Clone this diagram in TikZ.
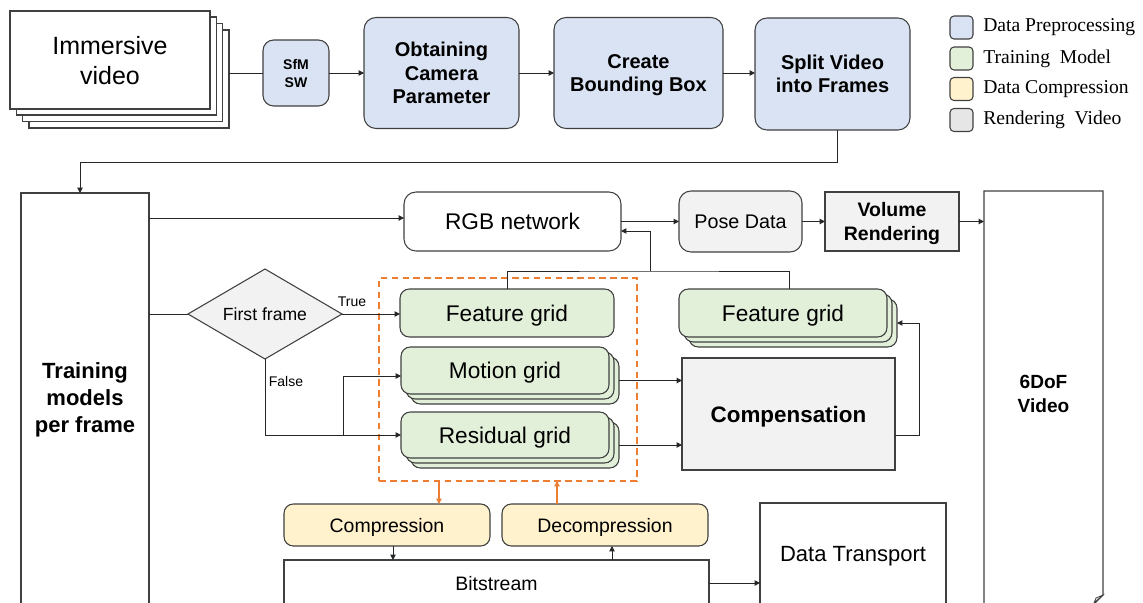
\documentclass[tikz,border=0pt]{standalone}
\usepackage{fontspec}
\setmainfont{Liberation Sans}
\newfontfamily\legfont{Liberation Serif}
\usetikzlibrary{arrows.meta,shapes.geometric,calc}
\newcommand\myfs[2]{\fontsize{#1}{#2}\selectfont}
\definecolor{cblue}{HTML}{DAE3F3}
\definecolor{cgreen}{HTML}{E2F0D9}
\definecolor{cyellow}{HTML}{FFF2CC}
\definecolor{cgray}{HTML}{F2F2F2}
\definecolor{clgray}{HTML}{E6E6E6}
\definecolor{cborder}{HTML}{404040}
\definecolor{corange}{HTML}{ED7D31}
\definecolor{cline}{HTML}{262626}
\tikzset{
  sz/.style 2 args={minimum width=#1*0.75pt, minimum height=#2*0.75pt},
  base/.style={draw=cborder, line width=0.8pt, inner sep=0pt, outer sep=0pt, align=center, text depth=0pt},
  textonly/.style={inner sep=0pt, outer sep=0pt, align=center, text depth=0pt},
  prepbox/.style={base, fill=cblue, rounded corners=9pt, font=\bfseries\myfs{15}{17.5}},
  gridbox/.style={base, fill=cgreen, rounded corners=7pt, font=\myfs{17}{20}},
  cmpbox/.style={base, fill=cyellow, rounded corners=7pt, font=\myfs{14.6}{17}},
  legsq/.style={base, rounded corners=3pt, sz={23}{23}},
  legtxt/.style={anchor=west, inner sep=0pt, font=\legfont\myfs{14.7}{17}},
  ln/.style={draw=cline, line width=0.75pt},
  arr/.style={ln, -{Triangle[length=4pt,width=4pt]}},
  oarr/.style={draw=corange, line width=1pt, -{Triangle[length=4pt,width=4pt]}},
}
\begin{document}
\begin{tikzpicture}[x=0.75pt, y=-0.75pt]
\useasboundingbox (0,0) rectangle (1143,603);
\clip (0,0) rectangle (1143,603);

% legend
\node[legsq, fill=cblue] (l1) at (961.5,27.5) {};
\node[legsq, fill=cgreen] (l2) at (961.5,58.5) {};
\node[legsq, fill=cyellow] (l3) at (961.5,89) {};
\node[legsq, fill=clgray] (l4) at (961.5,120) {};
\node[legtxt] (t1) at (983,27.5) {Data Preprocessing};
\node[legtxt] (t2) at (983,58.5) {Training\ \ Model};
\node[legtxt] (t3) at (983,89) {Data Compression};
\node[legtxt] (t4) at (983,120) {Rendering\ \ Video};

% immersive video stack
\node[base, fill=white, sz={200}{98}] (imm3) at (129,79) {};
\node[base, fill=white, sz={200}{98}] (imm2) at (122.5,72.5) {};
\node[base, fill=white, sz={200}{98}] (imm1) at (116.5,66) {};
\node[base, fill=white, sz={200}{98}, font=\myfs{18.75}{22.5}] (imm) at (110,60) {Immersive\\video};

% top row
\node[prepbox, sz={66}{66}, rounded corners=8pt, font=\bfseries\myfs{10.5}{13.5}] (sfm) at (296,73) {SfM\\SW};
\node[prepbox, sz={155}{111}] (cam) at (441.5,73) {Obtaining\\Camera\\Parameter};
\node[prepbox, sz={169}{111}] (bb) at (638.5,73) {Create\\Bounding Box};
\node[prepbox, sz={155}{112}] (split) at (832.5,74) {Split Video\\into Frames};
\draw[ln] (imm3.east |- sfm.west) -- (sfm.west);
\draw[arr] (sfm.east) -- (cam.west);
\draw[arr] (cam.east) -- (bb.west);
\draw[arr] (bb.east) -- (bb.east -| split.west);

% training box
\node[textonly, sz={128}{410}, font=\bfseries\myfs{16.5}{20.25}] (train) at (85,398) {Training\\models\\per frame};
\draw[draw=cborder, line width=0.8pt] (train.south west) -- (train.north west) -- (train.north east) -- (train.south east);
\coordinate (s1) at ($(split.south)+(5,0)$);
\draw[arr] (s1) -- ++(0,32) -| ($(train.north)+(-5,0)$);

% rendering row
\node[base, fill=white, rounded corners=9pt, sz={217}{59}, font=\myfs{17}{20}] (rgb) at (512.5,221.5) {RGB network};
\node[base, fill=cgray, rounded corners=9pt, sz={123}{61}, font=\myfs{14.8}{17}] (pose) at (740.5,221.5) {Pose Data};
\node[base, fill=cgray, sz={134}{59}, font=\bfseries\myfs{14.6}{17.5}] (vol) at (892,221.5) {Volume\\Rendering};
\node[textonly, sz={119}{406}, font=\bfseries\myfs{14.3}{17.5}] (dof) at (1043.5,394) {6DoF\\Video};
\draw[draw=cborder, line width=0.8pt] (dof.west |- 0,620) -- (dof.north west) -- (dof.north east) -- ($(dof.south east)+(0,-2)$) -- ($(dof.south east)+(-12,10)$);
\draw[draw=cborder, line width=0.6pt, fill=clgray] ($(dof.south east)+(0,-2)$) -- ($(dof.south east)+(-7,1)$) -- ($(dof.south east)+(-9,6)$) -- cycle;
\coordinate (r1) at ($(rgb.west)+(0,-3.5)$);
\draw[arr] (train.east |- r1) -- (r1);
\draw[arr] (rgb.east) -- (pose.west);
\draw[arr] (pose.east) -- (vol.west);
\draw[arr] (vol.east) -- (vol.east -| dof.west);

% decision
\node[base, diamond, fill=cgray, sz={154}{90}, aspect=1.7, font=\myfs{13.2}{15}] (dia) at (265,314) {First frame};
\node[textonly, font=\myfs{10.5}{12}] (ttrue) at (352,302) {True};
\node[textonly, font=\myfs{10.5}{12}] (tfalse) at (286,381) {False};
\draw[ln] (train.east |- dia.west) -- (dia.west);

% grids
\node[gridbox, sz={214}{48}] (fg1) at (507,313) {Feature grid};
\node[gridbox, sz={208}{47}] (mot3) at (515,380.5) {};
\node[gridbox, sz={208}{47}] (mot2) at (510,375.5) {};
\node[gridbox, sz={208}{47}] (mot) at (505,370.5) {Motion grid};
\node[gridbox, sz={208}{46}] (res3) at (515,445) {};
\node[gridbox, sz={208}{46}] (res2) at (510,440) {};
\node[gridbox, sz={208}{46}] (res) at (505,435) {Residual grid};
\node[gridbox, sz={208}{48}] (fg23) at (793,323) {};
\node[gridbox, sz={208}{48}] (fg22) at (788,318) {};
\node[gridbox, sz={208}{48}] (fg2) at (783,313) {Feature grid};
\node[base, fill=cgray, sz={213}{112}, font=\bfseries\myfs{16.8}{20}] (comp) at (788.5,414) {Compensation};
\node[draw=corange, line width=1pt, dash pattern=on 5pt off 3.2pt, inner sep=0pt, outer sep=0pt, sz={258}{203}] (dbox) at (508,379.5) {};

\draw[arr] (dia.east) -- (dia.east -| fg1.west);
\draw[arr] (dia.south) |- (res.west);
\coordinate (br) at ($(res.west)+(-58,0)$);
\draw[arr] (br) |- ($(mot.west)+(0,5.5)$);
\draw[arr] (mot3.east) -- (mot3.east -| comp.west);
\draw[arr] (res3.east) -- (res3.east -| comp.west);
\draw[arr] ($(comp.east)+(0,21)$) -- ++(24,0) |- (fg23.east);
\coordinate (jn) at (650,271);
\draw[ln] (fg1.north) |- (jn) -| ($(fg2.north)+(6,0)$);
\draw[arr] (jn) |- ($(rgb.east)+(0,9.5)$);

% compression
\node[cmpbox, sz={206}{42}] (cmp) at (387,525) {Compression};
\node[cmpbox, sz={206}{42}] (dcmp) at (605,525) {Decompression};
\coordinate (c1) at ($(cmp.north)+(52,0)$);
\coordinate (c2) at ($(dcmp.north)+(-48,0)$);
\draw[oarr] (dbox.south -| c1) -- (c1);
\draw[oarr] (c2) -- (dbox.south -| c2);

\node[textonly, sz={425}{46}, font=\myfs{14.6}{17}] (bits) at (496.5,583) {Bitstream};
\draw[draw=cborder, line width=0.8pt] (bits.south west) -- (bits.north west) -- (bits.north east) -- (bits.south east);
\node[textonly, sz={186}{102}, font=\myfs{16.5}{19}] (dt) at (853,554) {Data Transport};
\draw[draw=cborder, line width=0.8pt] (dt.south west) -- (dt.north west) -- (dt.north east) -- (dt.south east);
\coordinate (c3) at ($(cmp.south)+(6,0)$);
\coordinate (c4) at ($(dcmp.south)+(7,0)$);
\draw[arr] (c3) -- (c3 |- bits.north);
\draw[arr] (c4 |- bits.north) -- (c4);
\draw[arr] (bits.east) -- (bits.east -| dt.west);
\end{tikzpicture}
\end{document}
